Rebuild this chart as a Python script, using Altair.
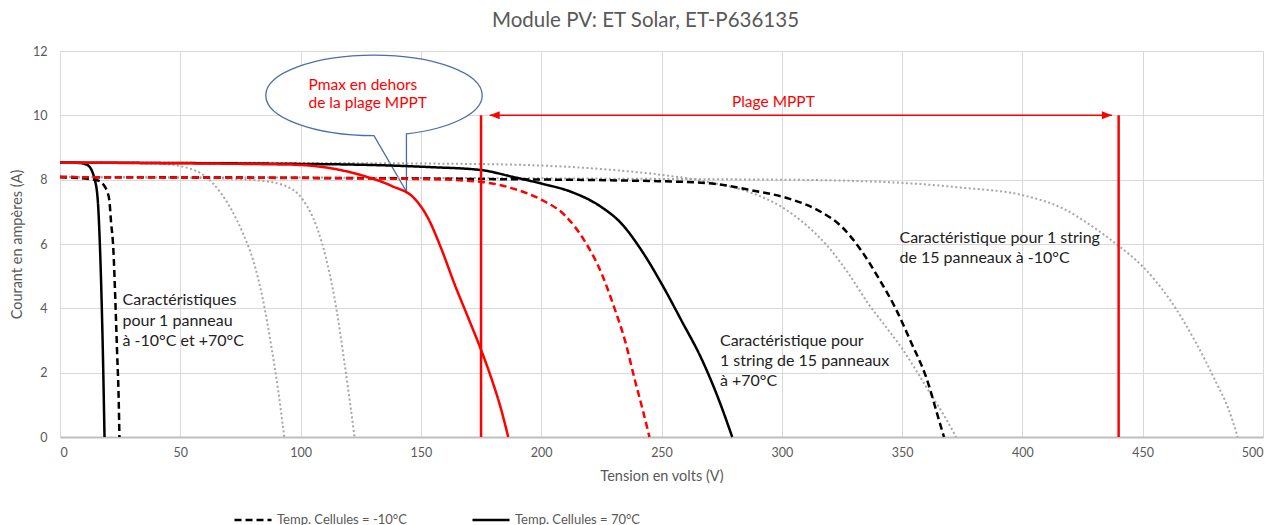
import altair as alt
import pandas as pd

FONT = "Lato"
T_M10 = "Temp. Cellules = -10°C"
T_70 = "Temp. Cellules = 70°C"

# ---- I-V curves (V in volts, I in amperes) ----
# 1 panel
V_1P_70 = [0, 8, 11.5, 14.3, 15.7, 16.4, 17.1, 17.8, 18.5]
I_1P_70 = [8.53, 8.52, 8.45, 8.04, 7.36, 6.32, 4.77, 2.69, 0]
V_1P_M10 = [0, 15, 18, 19.5, 20.5, 21.2, 22.2, 23.0, 23.7, 24.4, 24.7]
I_1P_M10 = [8.08, 7.99, 7.85, 7.65, 7.36, 6.7, 5.8, 4.25, 2.7, 1.14, 0]
# 5 panels (grey dotted)
V_5P_70 = [0, 40, 53.8, 63.6, 70.6, 76.1, 80.3, 84.4, 87.9, 90.7, 93.2]
I_5P_70 = [8.53, 8.5, 8.35, 7.88, 7.15, 6.32, 5.49, 4.25, 2.79, 1.44, 0]
V_5P_M10 = [0, 60, 81.7, 92.8, 101.1, 106.7, 110.8, 115, 118.5, 120.6, 122.4]
I_5P_M10 = [8.08, 8.05, 7.98, 7.83, 7.36, 6.53, 5.49, 3.93, 2.17, 1.03, 0]
# 10 panels (red)
V_10P_70 = [0, 95, 113, 127, 138, 147.5, 153, 158.5, 164, 169.7, 174.8, 179.4, 183, 186.3]
I_10P_70 = [8.53, 8.47, 8.35, 8.1, 7.8, 7.4, 6.8, 5.85, 4.75, 3.7, 2.75, 1.8, 0.95, 0]
V_10P_M10 = [0, 150, 175, 188, 200, 210, 218, 225, 230, 235, 239, 242, 245]
I_10P_M10 = [8.08, 8.02, 7.93, 7.73, 7.38, 6.88, 6.1, 5.1, 4.1, 2.95, 1.75, 0.9, 0]
# 15 panels (black)
V_15P_70 = [0, 112, 154, 175, 188, 200, 212.5, 225, 233.3, 241.7, 250, 258.3, 266.7, 273.6, 279.4]
I_15P_70 = [8.53, 8.48, 8.39, 8.3, 8.09, 7.88, 7.62, 7.15, 6.64, 5.8, 4.77, 3.62, 2.42, 1.2, 0]
V_15P_M10 = [0, 175, 250, 271, 287.5, 303, 315, 325, 333, 340, 347, 354, 360, 365, 367.4]
I_15P_M10 = [8.08, 8.02, 7.95, 7.88, 7.67, 7.41, 7.05, 6.53, 5.8, 4.97, 4.04, 2.9, 1.86, 0.61, 0]
# 20 panels (grey dotted)
V_20P_70 = [0, 100, 180, 225, 250, 270, 287, 300, 310, 319.4, 328, 336, 343, 350, 356, 361, 367, 372.5]
I_20P_70 = [8.53, 8.52, 8.48, 8.33, 8.15, 7.92, 7.6, 7.15, 6.6, 5.9, 5.05, 4.14, 3.45, 2.75, 2.05, 1.44, 0.72, 0]
V_20P_M10 = [0, 300, 350, 375, 400, 417, 428, 439, 450, 461, 472, 480.5, 485.5, 489.5]
I_20P_M10 = [8.08, 8.0, 7.9, 7.75, 7.52, 7.1, 6.6, 6.0, 5.3, 4.3, 2.95, 1.7, 0.9, 0]

# ---- MPPT range ----
MPPT_V = [175, 440]
MPPT_I_TOP = 10
ARROW_V = [178.6, 437.2]

# ---- annotation texts ----
TXT_BLACK = ["Caractéristiques", "pour 1 panneau", "à -10°C et +70°C",
             "Caractéristique pour", "1 string de 15 panneaux", "à +70°C",
             "Caractéristique pour 1 string", "de 15 panneaux à -10°C"]
TXT_BLACK_V = [26.0, 26.0, 26.0, 274.3, 274.3, 274.3, 348.9, 348.9]
TXT_BLACK_I = [4.27, 3.62, 2.97, 2.98, 2.35, 1.73, 6.19, 5.56]
TXT_RED = ["Pmax en dehors", "de la plage MPPT"]
TXT_RED_V = [103.3, 103.3]
TXT_RED_I = [10.93, 10.37]
MPPT_LABEL = "Plage MPPT"
MPPT_LABEL_V = 296.5
MPPT_LABEL_I = 10.4
BUBBLE_V = 130.5
BUBBLE_I = 10.62


def frame(items):
    rows = []
    for name, temp, vs, cs in items:
        for v, c in zip(vs, cs):
            rows.append({"curve": name, "temp": temp, "V": v, "I": c})
    return pd.DataFrame(rows)


df_black = frame([("1p70", T_70, V_1P_70, I_1P_70), ("1pm10", T_M10, V_1P_M10, I_1P_M10),
                  ("15p70", T_70, V_15P_70, I_15P_70), ("15pm10", T_M10, V_15P_M10, I_15P_M10)])
df_red = frame([("10p70", T_70, V_10P_70, I_10P_70), ("10pm10", T_M10, V_10P_M10, I_10P_M10)])
df_grey = frame([("5p70", T_70, V_5P_70, I_5P_70), ("5pm10", T_M10, V_5P_M10, I_5P_M10),
                 ("20p70", T_70, V_20P_70, I_20P_70), ("20pm10", T_M10, V_20P_M10, I_20P_M10)])

GREY_TXT = "#595959"
x_axis = alt.Axis(values=list(range(0, 501, 50)), grid=True, gridColor="#d9d9d9", gridWidth=1,
                  ticks=False, domainColor="#bfbfbf", domainWidth=2, labelFont=FONT,
                  labelFontSize=12.5, labelColor=GREY_TXT, labelPadding=9,
                  title="Tension en volts (V)", titleFont=FONT, titleFontSize=14.5,
                  titleFontWeight="normal", titleColor=GREY_TXT, titlePadding=11)
y_axis = alt.Axis(values=list(range(0, 13, 2)), grid=True, gridColor="#d9d9d9", gridWidth=1,
                  ticks=False, domain=False, labelFont=FONT, labelFontSize=12.5,
                  labelColor=GREY_TXT, labelPadding=13,
                  title="Courant en ampères (A)", titleFont=FONT, titleFontSize=14.5,
                  titleFontWeight="normal", titleColor=GREY_TXT, titlePadding=8)
x_scale = alt.Scale(domain=[0, 500], nice=False, zero=False)
y_scale = alt.Scale(domain=[0, 12], nice=False, zero=False)


def X(f="V"):
    return alt.X(f"{f}:Q", scale=x_scale, axis=x_axis)


def Y(f="I"):
    return alt.Y(f"{f}:Q", scale=y_scale, axis=y_axis)


dash = alt.StrokeDash(
    "temp:N",
    scale=alt.Scale(domain=[T_M10, T_70], range=[[7, 4], [1, 0]]),
    legend=alt.Legend(title=None, orient="none", legendX=173, legendY=449, direction="horizontal",
                      symbolType="stroke", symbolStrokeColor="black", symbolStrokeWidth=2.5,
                      symbolSize=1369, labelFont=FONT, labelFontSize=13, labelColor=GREY_TXT,
                      labelOffset=4, columnPadding=60, padding=0),
)

# speech bubble (ellipse with tail), unit path scaled by sqrt(size)/2
BUBBLE_PATH = ("M0.3,0.355C0.7165,0.3063 1,0.1624 1,0C1,-0.2055 0.5523,-0.372 0,-0.372"
               "C-0.5523,-0.372 -1,-0.2055 -1,0C-1,0.2055 -0.5523,0.372 0,0.372"
               "L0.3,0.889L0.3,0.355Z")
bubble = alt.Chart(pd.DataFrame({"V": [BUBBLE_V], "I": [BUBBLE_I]})).mark_point(
    shape=BUBBLE_PATH, size=46829, filled=True, fill="white", stroke="#4a6ea8",
    strokeWidth=1.3, opacity=1, fillOpacity=1, strokeOpacity=1
).encode(x=X(), y=Y())

grey = alt.Chart(df_grey).mark_line(color="#a6a6a6", strokeWidth=2, strokeDash=[2, 2.5],
                                    interpolate="monotone").encode(
    x=X(), y=Y(), detail="curve:N", order="V:Q")
black = alt.Chart(df_black).mark_line(color="black", strokeWidth=2.5, strokeJoin="round",
                                      interpolate="monotone").encode(
    x=X(), y=Y(), detail="curve:N", strokeDash=dash, order="V:Q")
red = alt.Chart(df_red).mark_line(color="#ff0000", strokeWidth=2.5, strokeJoin="round",
                                  interpolate="monotone").encode(
    x=X(), y=Y(), detail="curve:N", strokeDash=dash, order="V:Q")

df_mppt = pd.DataFrame({"V": MPPT_V, "I0": [0, 0], "I1": [MPPT_I_TOP, MPPT_I_TOP]})
vrules = alt.Chart(df_mppt).mark_rule(color="#ff0000", strokeWidth=2.5).encode(
    x=X(), y=Y("I0"), y2="I1:Q")

df_arrow = pd.DataFrame({"V": [ARROW_V[0]], "V2": [ARROW_V[1]], "I": [MPPT_I_TOP]})
arrow = alt.Chart(df_arrow).mark_rule(color="#ff0000", strokeWidth=1.5).encode(
    x=X(), x2="V2:Q", y=Y())
head_l = alt.Chart(pd.DataFrame({"V": [ARROW_V[0]], "I": [MPPT_I_TOP]})).mark_point(
    shape="M0,0L2,-0.8L2,0.8Z", size=100, filled=True, color="#ff0000", opacity=1
).encode(x=X(), y=Y())
head_r = alt.Chart(pd.DataFrame({"V": [ARROW_V[1]], "I": [MPPT_I_TOP]})).mark_point(
    shape="M0,0L-2,-0.8L-2,0.8Z", size=100, filled=True, color="#ff0000", opacity=1
).encode(x=X(), y=Y())

df_tb = pd.DataFrame({"V": TXT_BLACK_V, "I": TXT_BLACK_I, "t": TXT_BLACK})
txt_black = alt.Chart(df_tb).mark_text(align="left", baseline="middle", font=FONT, fontSize=16,
                                       color="#222222").encode(x=X(), y=Y(), text="t:N")
df_tr = pd.DataFrame({"V": TXT_RED_V, "I": TXT_RED_I, "t": TXT_RED})
txt_red = alt.Chart(df_tr).mark_text(align="left", baseline="middle", font=FONT, fontSize=15.5,
                                     color="#ff0000").encode(x=X(), y=Y(), text="t:N")
df_tm = pd.DataFrame({"V": [MPPT_LABEL_V], "I": [MPPT_LABEL_I], "t": [MPPT_LABEL]})
txt_mppt = alt.Chart(df_tm).mark_text(align="center", baseline="middle", font=FONT, fontSize=15.5,
                                      color="#ff0000").encode(x=X(), y=Y(), text="t:N")

chart = alt.layer(
    bubble, grey, black, red, vrules, arrow, head_l, head_r, txt_black, txt_red, txt_mppt
).properties(
    width=1203, height=386,
    padding={"left": 52, "top": 43, "right": 10, "bottom": 96},
    autosize=alt.AutoSizeParams(type="none"),
    title=alt.TitleParams("Module PV: ET Solar, ET-P636135", font=FONT, fontSize=20.5,
                          fontWeight="normal", color=GREY_TXT, offset=14, dx=-16),
    background="white",
).configure_view(stroke=None)

chart.save("out.html", embed_options={"renderer": "svg", "actions": False})
